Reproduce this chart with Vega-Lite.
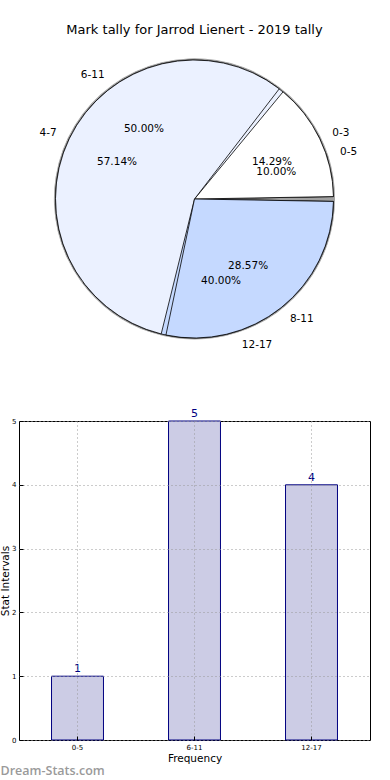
{
  "$schema": "https://vega.github.io/schema/vega-lite/v6.json",
  "padding": {"left": 0, "top": 24, "right": 0, "bottom": 0},
  "background": "white",
  "title": {"text": "Mark tally for Jarrod Lienert - 2019 tally", "fontSize": 13, "fontWeight": "normal", "font": "DejaVu Sans", "color": "black", "anchor": "middle", "frame": "group", "offset": 14},
  "config": {
    "font": "DejaVu Sans",
    "view": {"stroke": "black", "strokeWidth": 1},
    "axis": {"labelFont": "DejaVu Sans", "titleFont": "DejaVu Sans", "labelColor": "black", "titleColor": "black", "titleFontWeight": "normal"}
  },
  "datasets": {
    "pieA": [
      {"interval": "0-3", "rank": 1, "share": 0.142857},
      {"interval": "4-7", "rank": 2, "share": 0.571429},
      {"interval": "8-11", "rank": 3, "share": 0.285714}
    ],
    "pieB": [
      {"interval": "0-5", "rank": 1, "share": 0.1},
      {"interval": "6-11", "rank": 2, "share": 0.5},
      {"interval": "12-17", "rank": 3, "share": 0.4}
    ],
    "counts": [
      {"interval": "0-5", "count": 1},
      {"interval": "6-11", "count": 5},
      {"interval": "12-17", "count": 4}
    ]
  },
  "vconcat": [
    {
      "width": 351,
      "height": 296,
      "view": {"stroke": null},
      "encoding": {
        "theta": {"field": "share", "type": "quantitative", "stack": true, "scale": {"domain": [0, 1], "range": [1.5708, -4.71239]}},
        "order": {"field": "rank", "type": "quantitative"},
        "color": {"field": "interval", "type": "nominal", "legend": null, "scale": {"domain": ["0-3", "4-7", "8-11", "0-5", "6-11", "12-17"], "range": ["#ffffff", "#ebf1ff", "#c5d9ff", "#ffffff", "#ebf1ff", "#c5d9ff"]}}
      },
      "layer": [
        {"data": {"name": "pieB"}, "mark": {"type": "arc", "radius": 140.5, "fill": "#8a8a8a", "opacity": 0.8}},
        {"data": {"name": "pieB"}, "mark": {"type": "arc", "radius": 139, "stroke": "black", "strokeWidth": 0.8, "padAngle": 0.035}},
        {"data": {"name": "pieA"}, "mark": {"type": "arc", "radius": 139, "stroke": "black", "strokeWidth": 0.8, "padAngle": 0.035}},
        {"data": {"name": "pieB"}, "mark": {"type": "text", "radius": 153, "fontSize": 10.5, "align": "left", "color": "black"}, "encoding": {"text": {"condition": {"test": "datum.rank == 2", "value": ""}, "field": "interval"}, "color": {"value": "black"}}},
        {"data": {"name": "pieB"}, "mark": {"type": "text", "radius": 153, "fontSize": 10.5, "align": "right", "color": "black"}, "encoding": {"text": {"condition": {"test": "datum.rank != 2", "value": ""}, "field": "interval"}, "color": {"value": "black"}}},
        {"data": {"name": "pieA"}, "mark": {"type": "text", "radius": 153, "fontSize": 10.5, "align": "left", "color": "black"}, "encoding": {"text": {"condition": {"test": "datum.rank == 2", "value": ""}, "field": "interval"}, "color": {"value": "black"}}},
        {"data": {"name": "pieA"}, "mark": {"type": "text", "radius": 153, "fontSize": 10.5, "align": "right", "color": "black"}, "encoding": {"text": {"condition": {"test": "datum.rank != 2", "value": ""}, "field": "interval"}, "color": {"value": "black"}}},
        {"data": {"name": "pieB"}, "mark": {"type": "text", "radius": 86, "fontSize": 10.5, "color": "black"}, "encoding": {"text": {"field": "share", "format": ".2%"}, "color": {"value": "black"}}},
        {"data": {"name": "pieA"}, "mark": {"type": "text", "radius": 86, "fontSize": 10.5, "color": "black"}, "encoding": {"text": {"field": "share", "format": ".2%"}, "color": {"value": "black"}}}
      ]
    },
    {
      "width": 351,
      "height": 319,
      "data": {"name": "counts"},
      "title": {"text": "Dream-Stats.com", "orient": "bottom", "anchor": "start", "frame": "bounds", "font": "Open Sans", "fontSize": 12.5, "fontWeight": 600, "color": "#9a9a9a", "offset": 1},
      "encoding": {
        "x": {"field": "interval", "type": "nominal", "sort": null, "scale": {"paddingInner": 0.556, "paddingOuter": 0.278}, "axis": {"title": "Frequency", "titleFontSize": 10.5, "titlePadding": 3, "labelFontSize": 7, "labelAngle": 0, "labelPadding": 7, "ticks": true, "tickSize": -4, "tickColor": "black", "domain": false, "grid": true, "bandPosition": 0.5, "gridDash": [1, 3], "gridColor": "#999999", "gridWidth": 1, "zindex": 1}},
        "y": {"field": "count", "type": "quantitative", "scale": {"domain": [0, 5], "nice": false}, "axis": {"title": "Stat Intervals", "values": [0, 1, 2, 3, 4, 5], "titleFontSize": 10.5, "titlePadding": 1, "labelFontSize": 7, "labelPadding": 7, "ticks": true, "tickSize": -4, "tickColor": "black", "domain": false, "grid": true, "gridDash": [1, 3], "gridColor": "#999999", "gridWidth": 1, "zindex": 1}}
      },
      "layer": [
        {"mark": {"type": "bar", "fill": "#ccccE5", "stroke": "#000080", "strokeWidth": 1}},
        {"mark": {"type": "text", "color": "#000080", "fontSize": 11, "baseline": "bottom", "dy": -2}, "encoding": {"text": {"field": "count", "type": "quantitative"}}}
      ]
    }
  ],
  "spacing": 74,
  "bounds": "flush"
}
